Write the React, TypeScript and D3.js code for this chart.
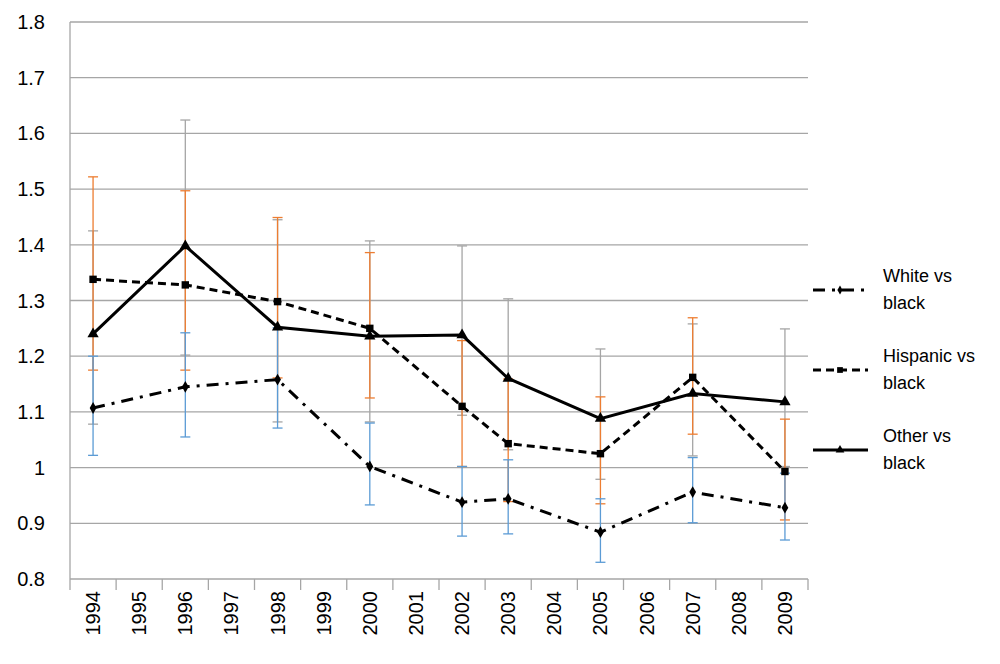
import { useEffect, useRef } from "react";
import * as d3 from "d3";

const years = ["1994", "1995", "1996", "1997", "1998", "1999", "2000", "2001", "2002", "2003", "2004", "2005", "2006", "2007", "2008", "2009"];
const yTicks = [0.8, 0.9, 1, 1.1, 1.2, 1.3, 1.4, 1.5, 1.6, 1.7, 1.8];
const pointYears = ["1994", "1996", "1998", "2000", "2002", "2003", "2005", "2007", "2009"];

const white = [1.107, 1.145, 1.158, 1.002, 0.938, 0.944, 0.884, 0.956, 0.928];
const whiteLo = [1.022, 1.055, 1.071, 0.933, 0.877, 0.881, 0.83, 0.901, 0.87];
const whiteHi = [1.2, 1.242, 1.251, 1.08, 1.002, 1.014, 0.944, 1.018, 0.99];

const hispanic = [1.338, 1.328, 1.298, 1.25, 1.11, 1.043, 1.025, 1.162, 0.993];
const hispanicLo = [1.175, 1.175, 1.161, 1.125, 1.002, 0.939, 0.935, 1.06, 0.906];
const hispanicHi = [1.522, 1.497, 1.449, 1.386, 1.228, 1.159, 1.127, 1.269, 1.087];

const other = [1.24, 1.398, 1.252, 1.236, 1.238, 1.16, 1.088, 1.133, 1.118];
const otherLo = [1.078, 1.202, 1.082, 1.082, 1.094, 1.032, 0.979, 1.021, 1.002];
const otherHi = [1.425, 1.624, 1.445, 1.407, 1.398, 1.303, 1.213, 1.258, 1.249];

const FONT = "Arial, 'Liberation Sans', sans-serif";

export default function App() {
  const svgRef = useRef<SVGSVGElement>(null);

  useEffect(() => {
    if (!svgRef.current) return;
    const svg = d3.select(svgRef.current);
    svg.selectAll("*").remove();

    const left = 70, right = 808, top = 22, bottom = 579;
    const x = d3.scaleBand<string>().domain(years).range([left, right]);
    const cx = (yr: string) => (x(yr) as number) + x.bandwidth() / 2;
    const y = d3.scaleLinear().domain([0.8, 1.8]).range([bottom, top]);

    // grid
    svg.append("g").selectAll("line").data(yTicks).enter().append("line")
      .attr("x1", left).attr("x2", right)
      .attr("y1", (d) => y(d)).attr("y2", (d) => y(d))
      .attr("stroke", "#a6a6a6").attr("stroke-width", 1.3);

    // y axis line
    svg.append("line").attr("x1", left).attr("x2", left).attr("y1", top).attr("y2", bottom)
      .attr("stroke", "#a6a6a6").attr("stroke-width", 1.3);

    // y labels
    svg.append("g").selectAll("text").data(yTicks).enter().append("text")
      .attr("x", 45).attr("y", (d) => y(d) + 7)
      .attr("text-anchor", "end").attr("font-family", FONT).attr("font-size", 20)
      .text((d) => (d === 1 ? "1" : d.toFixed(1)));

    // x ticks
    svg.append("g").selectAll("line").data([...years.map((d) => x(d) as number), right]).enter().append("line")
      .attr("x1", (d) => d).attr("x2", (d) => d).attr("y1", bottom).attr("y2", bottom + 11)
      .attr("stroke", "#a6a6a6").attr("stroke-width", 1.3);

    // x labels
    svg.append("g").selectAll("text").data(years).enter().append("text")
      .attr("transform", (d) => `translate(${cx(d) + 7},${bottom + 12}) rotate(-90)`)
      .attr("text-anchor", "end").attr("font-family", FONT).attr("font-size", 20)
      .text((d) => d);

    // error bars
    const errBars = (lo: number[], hi: number[], color: string) => {
      const g = svg.append("g").attr("stroke", color).attr("stroke-width", 1.3);
      pointYears.forEach((yr, i) => {
        const px = cx(yr);
        g.append("line").attr("x1", px).attr("x2", px).attr("y1", y(lo[i])).attr("y2", y(hi[i]));
        [lo[i], hi[i]].forEach((v) =>
          g.append("line").attr("x1", px - 5).attr("x2", px + 5).attr("y1", y(v)).attr("y2", y(v)));
      });
    };
    errBars(otherLo, otherHi, "#a5a5a5");
    errBars(hispanicLo, hispanicHi, "#ed7d31");
    errBars(whiteLo, whiteHi, "#5b9bd5");

    const line = d3.line<number>().x((_, i) => cx(pointYears[i])).y((d) => y(d));

    const series = [
      { vals: white, dash: "12 7 3 7", marker: "diamond" },
      { vals: hispanic, dash: "8 5", marker: "square" },
      { vals: other, dash: "", marker: "triangle" },
    ];
    const sym = (m: string, k = 1) =>
      d3.symbol().type(m === "diamond" ? d3.symbolDiamond : m === "square" ? d3.symbolSquare : d3.symbolTriangle)
        .size((m === "diamond" ? 40 : 55) * k)();

    series.forEach((s) => {
      svg.append("path").datum(s.vals).attr("d", line)
        .attr("fill", "none").attr("stroke", "#000").attr("stroke-width", 3)
        .attr("stroke-dasharray", s.dash || null);
      svg.append("g").selectAll("path").data(s.vals).enter().append("path")
        .attr("d", sym(s.marker))
        .attr("transform", (d, i) => `translate(${cx(pointYears[i])},${y(d)})`)
        .attr("fill", "#000");
    });

    // legend
    const legend = [
      { label: ["White vs", "black"], ly: 290, s: series[0] },
      { label: ["Hispanic vs", "black"], ly: 370, s: series[1] },
      { label: ["Other vs", "black"], ly: 450, s: series[2] },
    ];
    legend.forEach((l) => {
      svg.append("line").attr("x1", 813).attr("x2", 868).attr("y1", l.ly).attr("y2", l.ly)
        .attr("stroke", "#000").attr("stroke-width", 3).attr("stroke-dasharray", l.s.dash || null);
      svg.append("path").attr("d", sym(l.s.marker, 0.6)).attr("transform", `translate(840,${l.ly})`).attr("fill", "#000");
      const t = svg.append("text").attr("font-family", FONT).attr("font-size", 18).attr("x", 883).attr("y", l.ly - 8);
      t.append("tspan").attr("x", 883).attr("dy", 0).text(l.label[0]);
      t.append("tspan").attr("x", 883).attr("dy", 27).text(l.label[1]);
    });
  }, []);

  return (
    <div style={{ margin: -8 }}>
      <svg ref={svgRef} width={1000} height={664} style={{ display: "block", background: "#fff" }} />
    </div>
  );
}
